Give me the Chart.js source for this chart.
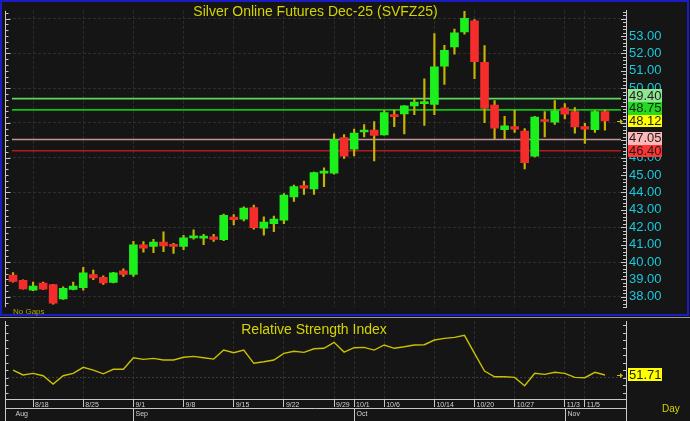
<!DOCTYPE html>
<html>
<head>
<meta charset="utf-8">
<script src="https://cdn.jsdelivr.net/npm/chart.js@4.4.1/dist/chart.umd.min.js"></script>
<style>
  html,body{margin:0;padding:0;width:690px;height:421px;background:#151515;overflow:hidden;font-family:"Liberation Sans",Arial,sans-serif;}
  canvas{position:absolute;left:0;display:block}
  #cMain{top:0}
  #cRsi{top:318px}
  .frame{position:absolute;left:0;top:0;width:689px;height:316px;box-sizing:border-box;border:2px solid #1c1cc4;pointer-events:none}
  .sep{position:absolute;left:0;top:317px;width:690px;height:1px;background:#9a9a9a}
  .txt{position:absolute;white-space:pre;}
  #title{left:0;width:631px;top:4px;text-align:center;font-size:14px;line-height:14px;color:#d4d400}
  #rsiTitle{left:0;width:628px;top:322px;text-align:center;font-size:14px;line-height:14px;color:#d4d400}
  #nogaps{left:13px;top:308px;font-size:8px;line-height:8px;color:#a8a800}
  #day{left:662px;top:404px;font-size:10px;line-height:10px;color:#d4d400}
</style>
</head>
<body>
<canvas id="cMain" width="690" height="318"></canvas>
<canvas id="cRsi" width="690" height="103"></canvas>
<div class="frame"></div>
<div class="sep"></div>
<div class="txt" id="title">Silver Online Futures Dec-25 (SVFZ25)</div>
<div class="txt" id="rsiTitle">Relative Strength Index</div>
<div class="txt" id="nogaps">No Gaps</div>
<div class="txt" id="day">Day</div>
<script>
// ---------------- DATA ----------------
const dates = ['8/14','8/15','8/18','8/19','8/20','8/21','8/22','8/25','8/26','8/27','8/28','8/29',
  '9/1','9/2','9/3','9/4','9/5','9/8','9/9','9/10','9/11','9/12','9/15','9/16','9/17','9/18','9/19',
  '9/22','9/23','9/24','9/25','9/26','9/29','9/30','10/1','10/2','10/3','10/6','10/7','10/8','10/9','10/10',
  '10/14','10/15','10/16','10/17','10/20','10/21','10/22','10/23','10/27','10/28','10/29','10/30','10/31',
  '11/3','11/4','11/5','11/6','11/7'];
const open = [39.25,38.94,38.38,38.79,38.70,37.87,38.42,38.53,39.27,39.12,38.83,39.49,
  39.28,40.99,40.90,41.14,40.99,40.90,41.39,41.37,41.45,41.28,42.58,42.47,43.13,41.94,42.20,
  42.40,43.74,44.40,44.20,45.11,45.11,47.15,46.49,47.48,47.59,47.31,48.45,48.52,48.98,49.11,
  49.07,51.26,52.37,53.24,53.88,51.49,49.03,47.61,47.79,47.53,46.09,48.18,48.05,
  48.87,48.65,47.79,47.61,48.65];
const high = [39.39,38.97,38.84,38.84,38.72,38.57,38.84,39.69,39.54,39.21,39.40,39.61,
  41.19,41.17,41.30,41.74,41.08,41.54,41.85,41.59,41.59,42.75,42.73,43.17,43.28,42.60,42.64,
  43.94,44.42,44.66,45.17,45.41,47.37,47.33,47.64,47.90,48.08,48.71,48.74,49.00,49.42,50.54,
  53.14,52.47,53.40,54.43,53.95,52.45,49.29,48.38,48.74,47.68,48.38,48.65,49.29,
  49.11,48.89,47.97,48.71,48.74];
const low = [38.84,38.43,38.35,38.42,37.57,37.85,38.40,38.38,38.99,38.71,38.80,39.17,
  39.17,40.57,40.53,40.59,40.49,40.71,41.32,41.00,41.19,41.23,42.14,42.36,41.89,41.54,41.74,
  42.20,43.48,43.89,43.89,44.34,45.05,45.96,46.10,47.20,45.81,47.29,47.79,47.37,48.47,47.86,
  48.47,50.21,51.95,53.11,50.54,48.01,47.09,47.09,47.46,45.35,46.05,47.19,47.92,
  48.23,47.41,46.82,47.46,47.59];
const close = [38.88,38.45,38.62,38.44,37.63,38.48,38.62,39.38,39.08,38.79,39.38,39.28,
  40.99,40.80,41.14,40.93,40.90,41.39,41.45,41.45,41.30,42.69,42.44,43.10,41.98,42.29,42.47,
  43.85,44.34,44.25,45.15,45.19,47.06,46.09,47.41,47.57,47.28,48.60,48.36,48.98,49.20,49.17,
  51.22,52.17,53.18,54.01,51.53,48.84,47.70,47.83,47.64,45.72,48.34,48.08,48.69,
  48.51,47.77,47.64,48.65,48.12];
const rsi = [55.0,51.7,52.8,51.2,45.7,51.2,52.8,56.8,55.0,52.5,55.5,55.5,
  63.2,62.1,62.8,61.7,61.7,63.5,64.1,63.2,62.3,68.3,66.5,68.3,59.5,60.5,61.7,
  66.1,67.5,66.8,69.2,69.5,73.5,67.0,69.9,70.1,68.3,71.7,69.5,70.5,71.7,71.9,
  75.0,76.1,76.8,78.1,66.1,54.3,50.5,50.5,50.1,44.5,52.8,52.1,53.5,
  52.8,50.1,49.9,53.5,51.71];
const xTickLabels = ['8/18','8/25','9/1','9/8','9/15','9/22','9/29','10/1','10/6','10/14','10/20','10/27','11/3','11/5'];
const monthNames = ['Aug','Sep','Oct','Nov'];
const levelValues = [49.40, 48.75, 47.05, 46.40];

// ---------------- STYLE ----------------
const FONT = '"Liberation Sans", Arial, sans-serif';
const S = {
  up:'#1cf01c', down:'#f42c2c', wick:'#c8b400',
  axisText:'#18c8dc', axisLine:'#c8c8c8', grid:'#2e2e2e', dateText:'#d0d0d0',
  levelLine:['#5ed85e','#12c012','#c49494','#b01c1c'],
  levelBox:['#90e690','#22dc22','#ffb8b8','#ff3434'],
  lastBox:'#ffff00', rsiLine:'#c8c000', marker:'#d0c000'
};

const tickIdx = xTickLabels.map(l => dates.indexOf(l));
const monthStarts = [];
dates.forEach((d,i)=>{ const m = d.split('/')[0]; if (i===0 || m !== dates[i-1].split('/')[0]) monthStarts.push(i); });
const X_MIN = -0.5, X_MAX = 61.1;

function drawBox(ctx, x, yc, txt, bg, fg){
  ctx.fillStyle = bg;
  ctx.fillRect(x, Math.round(yc-6.5), 34, 13);
  ctx.fillStyle = fg;
  ctx.font = '13px ' + FONT;
  ctx.textAlign = 'left'; ctx.textBaseline = 'middle';
  ctx.fillText(txt, x+1, yc+0.5);
}
function drawMarker(ctx, x, y){
  ctx.strokeStyle = S.marker; ctx.fillStyle = S.marker; ctx.lineWidth = 1;
  ctx.beginPath(); ctx.moveTo(x, y+0.5); ctx.lineTo(x+4, y+0.5); ctx.stroke();
  ctx.beginPath(); ctx.moveTo(x+6, y+0.5); ctx.lineTo(x+3, y-2); ctx.lineTo(x+3, y+3); ctx.closePath(); ctx.fill();
}

// ---------------- MAIN CHART ----------------
const mainDecor = {
  id:'mainDecor',
  beforeDatasetsDraw(chart){
    const {ctx, chartArea:a, scales:{y}} = chart;
    ctx.save();
    levelValues.forEach((v,k)=>{
      const py = y.getPixelForValue(v);
      ctx.strokeStyle = S.levelLine[k]; ctx.lineWidth = 1.6;
      ctx.beginPath(); ctx.moveTo(a.left+4, py); ctx.lineTo(a.right-5, py); ctx.stroke();
    });
    ctx.restore();
  },
  afterDraw(chart){
    const {ctx, chartArea:a, scales:{y}} = chart;
    ctx.save();
    ctx.strokeStyle = S.axisLine; ctx.lineWidth = 1;
    // left axis
    ctx.beginPath(); ctx.moveTo(5.5, a.top); ctx.lineTo(5.5, a.bottom); ctx.stroke();
    for (let k = Math.ceil(y.min*3); k <= Math.floor(y.max*3); k++){
      const v = k/3, py = Math.round(y.getPixelForValue(v))+0.5;
      const len = (k % 6 === 0) ? 5 : 3;
      ctx.beginPath(); ctx.moveTo(5.5, py); ctx.lineTo(5.5+len, py); ctx.stroke();
    }
    // right axis minor ticks
    for (let k = Math.ceil(y.min*5); k <= Math.floor(y.max*5); k++){
      const py = Math.round(y.getPixelForValue(k/5))+0.5;
      const len = (k % 5 === 0) ? 5 : 3;
      ctx.beginPath(); ctx.moveTo(a.right, py); ctx.lineTo(a.right-len, py); ctx.stroke();
    }
    // level boxes (stacked to avoid overlap)
    const items = levelValues.map((v,k)=>({v, bg:S.levelBox[k]}));
    items.push({v: close[close.length-1], bg:S.lastBox});
    items.forEach(it => it.py = y.getPixelForValue(it.v));
    items.sort((p,q)=>q.py-p.py);
    let prev = Infinity;
    items.forEach(it => { it.yc = Math.min(it.py, prev-12.6); prev = it.yc; });
    items.forEach(it => drawBox(ctx, a.right+2, it.yc, it.v.toFixed(2), it.bg, '#1e1e1e'));
    drawMarker(ctx, a.right-9, Math.round(y.getPixelForValue(close[close.length-1])));
    ctx.restore();
  }
};

new Chart(document.getElementById('cMain'), {
  type:'bar',
  data:{ datasets:[
    { label:'body', order:0, grouped:false, barThickness:8, minBarLength:2,
      data: dates.map((d,i)=>({x:i, y:[open[i], close[i]]})),
      backgroundColor: c => { const i=c.dataIndex; return close[i] >= open[i] ? S.up : S.down; } },
    { label:'wick', order:1, grouped:false, barThickness:1.5,
      data: dates.map((d,i)=>({x:i, y:[low[i], high[i]]})),
      backgroundColor: S.wick }
  ]},
  options:{
    responsive:false, animation:false, devicePixelRatio:1,
    layout:{padding:{left:8, top:3, bottom:5, right:0}},
    plugins:{legend:{display:false}, tooltip:{enabled:false}, title:{display:false}},
    scales:{
      x:{ type:'linear', min:X_MIN, max:X_MAX, offset:false,
          afterBuildTicks: s => { s.ticks = tickIdx.map(v=>({value:v})); },
          afterFit: s => { s.height = 0; },
          ticks:{display:false},
          grid:{color:S.grid, drawTicks:false, offset:false},
          border:{display:false, dash:[3,2]} },
      y:{ position:'right', min:37.4, max:54.45,
          afterFit: s => { s.width = 64; },
          ticks:{ stepSize:1, includeBounds:false, color:S.axisText, padding:3,
                  font:{size:13, family:FONT},
                  callback: v => v > 53.5 ? '' : Number(v).toFixed(2) },
          grid:{ drawTicks:false, color: c => (c.tick && Math.round(c.tick.value) % 2 === 0) ? S.grid : 'rgba(0,0,0,0)' },
          border:{ display:true, color:S.axisLine, width:1, dash:[3,2] } }
    }
  },
  plugins:[mainDecor]
});

// ---------------- RSI CHART ----------------
const rsiDecor = {
  id:'rsiDecor',
  afterDraw(chart){
    const {ctx, chartArea:a, scales:{x, y}} = chart;
    const H = chart.height;
    ctx.save();
    ctx.strokeStyle = S.axisLine; ctx.lineWidth = 1;
    // left axis & ticks
    ctx.beginPath(); ctx.moveTo(5.5, a.top); ctx.lineTo(5.5, H); ctx.stroke();
    for (let k = Math.ceil(y.min/5); k <= Math.floor(y.max/5); k++){
      const py = Math.round(y.getPixelForValue(k*5))+0.5;
      ctx.beginPath(); ctx.moveTo(5.5, py); ctx.lineTo(8.5, py); ctx.stroke();
      ctx.beginPath(); ctx.moveTo(a.right, py); ctx.lineTo(a.right-3, py); ctx.stroke();
    }
    // right axis extension
    ctx.beginPath(); ctx.moveTo(a.right+0.5, a.top); ctx.lineTo(a.right+0.5, H); ctx.stroke();
    // axis rows
    const yb = Math.round(a.bottom)+0.5, ym = Math.round(a.bottom)+9.5;
    ctx.beginPath(); ctx.moveTo(5.5, yb); ctx.lineTo(a.right, yb); ctx.stroke();
    ctx.beginPath(); ctx.moveTo(5.5, ym); ctx.lineTo(a.right, ym); ctx.stroke();
    ctx.font = '7px ' + FONT; ctx.fillStyle = S.dateText; ctx.textAlign='left'; ctx.textBaseline='middle';
    monthStarts.forEach((idx,k)=>{
      const px = Math.round(x.getPixelForValue(idx))+0.5;
      if (k > 0){ ctx.beginPath(); ctx.moveTo(px, ym); ctx.lineTo(px, H); ctx.stroke(); }
      ctx.fillText(monthNames[k], px+2, ym+6);
    });
    // value box
    const last = rsi[rsi.length-1];
    const py = y.getPixelForValue(last);
    drawBox(ctx, a.right+2, py, last.toFixed(2), S.lastBox, '#1e1e1e');
    drawMarker(ctx, a.right-9, Math.round(py));
    ctx.restore();
  }
};

new Chart(document.getElementById('cRsi'), {
  type:'line',
  data:{ datasets:[{ data: rsi.map((v,i)=>({x:i, y:v})), borderColor:S.rsiLine, borderWidth:1.4,
          pointRadius:0, tension:0, fill:false }]},
  options:{
    responsive:false, animation:false, devicePixelRatio:1,
    layout:{padding:{left:8, top:3, bottom:0, right:0}},
    plugins:{legend:{display:false}, tooltip:{enabled:false}},
    scales:{
      x:{ type:'linear', min:X_MIN, max:X_MAX, offset:false,
          afterBuildTicks: s => { s.ticks = tickIdx.map(v=>({value:v})); },
          afterFit: s => { s.height = 22; },
          ticks:{ autoSkip:false, maxRotation:0, minRotation:0, align:'start', labelOffset:2, padding:-6,
                  color:S.dateText, font:{size:7, family:FONT},
                  callback: v => dates[v] },
          grid:{ color:S.grid, tickColor:S.axisLine, tickLength:8, drawTicks:true, offset:false },
          border:{ display:true, color:S.axisLine, dash:[3,2] } },
      y:{ position:'right', min:35.7, max:87.7,
          afterFit: s => { s.width = 64; },
          ticks:{ display:false, stepSize:5, includeBounds:false },
          grid:{ drawTicks:false, color: c => (c.tick && c.tick.value === 50) ? '#3c3c3c' : 'rgba(0,0,0,0)' },
          border:{ display:true, color:S.axisLine, dash:[2,2] } }
    }
  },
  plugins:[rsiDecor]
});
</script>
</body>
</html>
